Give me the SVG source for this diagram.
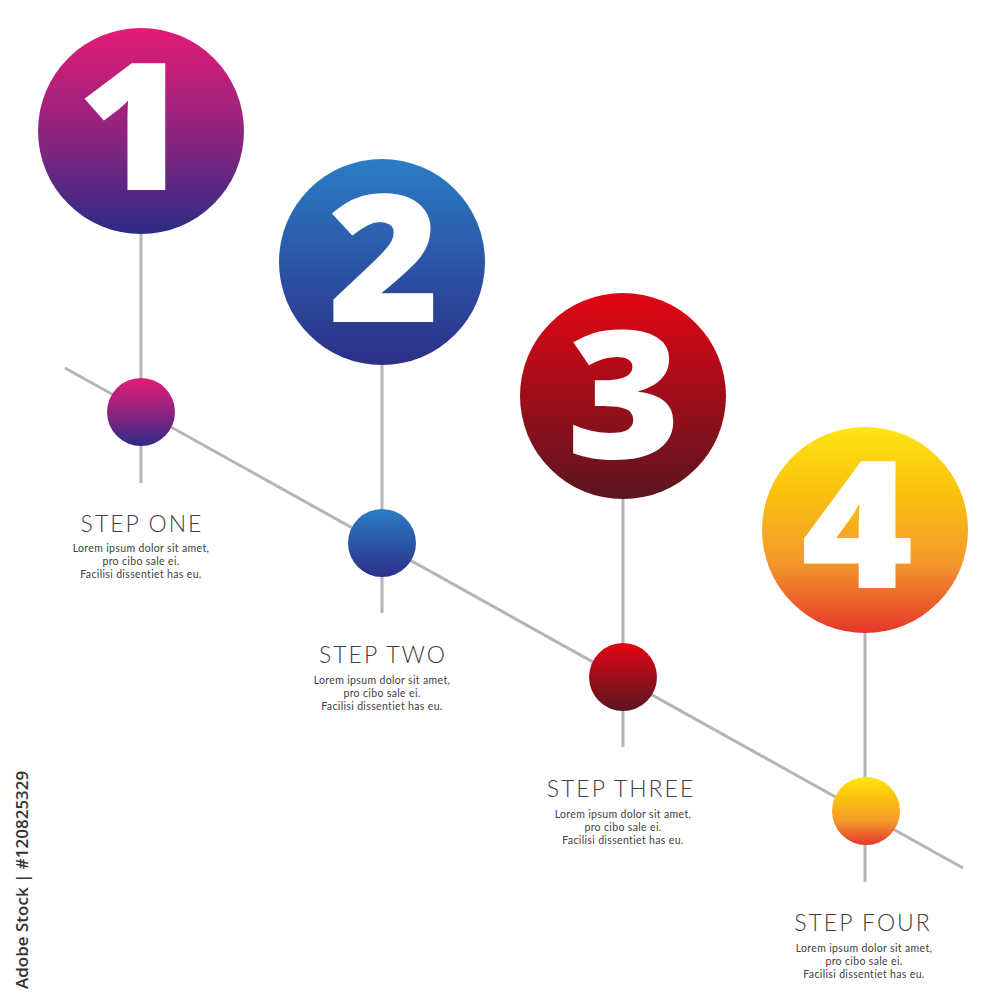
<svg xmlns="http://www.w3.org/2000/svg" width="1000" height="1000" viewBox="0 0 1000 1000">
<style>
.ln{stroke:#b5b5b5;stroke-width:3;fill:none;stroke-linecap:butt}
.num{font-family:"Open Sans","DejaVu Sans",sans-serif;font-weight:800;fill:#fff;text-anchor:middle}
.ttl{font-family:"Lato","Open Sans",sans-serif;font-weight:300;font-size:23px;fill:#404040;text-anchor:middle;letter-spacing:2px}
.dsc{font-family:"Lato","Open Sans",sans-serif;font-weight:400;font-size:10.5px;fill:#404040;text-anchor:middle;letter-spacing:0.35px}
.wm{font-family:"Open Sans","DejaVu Sans",sans-serif;font-weight:600;font-size:17px;fill:#333}
</style>
<defs>
<linearGradient id="g1" x1="0" y1="0" x2="0" y2="1"><stop offset="0" stop-color="#e41b76"/><stop offset="0.5" stop-color="#90247f"/><stop offset="1" stop-color="#2c2b86"/></linearGradient>
<linearGradient id="g2" x1="0" y1="0" x2="0" y2="1"><stop offset="0" stop-color="#2a7dc5"/><stop offset="1" stop-color="#2c2f88"/></linearGradient>
<linearGradient id="g3" x1="0" y1="0" x2="0" y2="1"><stop offset="0" stop-color="#e30613"/><stop offset="1" stop-color="#5a1520"/></linearGradient>
<linearGradient id="g4" x1="0" y1="0" x2="0" y2="1"><stop offset="0" stop-color="#fde514"/><stop offset="0.3" stop-color="#fbc30c"/><stop offset="0.65" stop-color="#f39a2c"/><stop offset="1" stop-color="#e5362b"/></linearGradient>
</defs>
<rect width="1000" height="1000" fill="#fff"/>
<g id="connectors">
<line class="ln" x1="65" y1="368" x2="963" y2="868"/>
<line class="ln" x1="141" y1="230" x2="141" y2="483"/>
<line class="ln" x1="382" y1="360" x2="382" y2="613"/>
<line class="ln" x1="623" y1="494" x2="623" y2="747"/>
<line class="ln" x1="865" y1="628" x2="865" y2="882"/>
</g>
<g id="step1">
<circle cx="141" cy="131" r="103" fill="url(#g1)"/>
<text class="num" x="133" y="190" font-size="178" transform="translate(133 0) scale(1.08 1) translate(-133 0)">1</text>
<circle cx="141" cy="412" r="34" fill="url(#g1)"/>
<text class="ttl" x="142" y="532">STEP ONE</text>
<text class="dsc" x="141" y="552">Lorem ipsum dolor sit amet,</text>
<text class="dsc" x="141" y="565">pro cibo sale ei.</text>
<text class="dsc" x="141" y="578">Facilisi dissentiet has eu.</text>
</g>
<g id="step2">
<circle cx="382" cy="262" r="103" fill="url(#g2)"/>
<text class="num" x="384" y="322" font-size="178" transform="translate(384 0) scale(1.08 1) translate(-384 0)">2</text>
<circle cx="382" cy="543" r="34" fill="url(#g2)"/>
<text class="ttl" x="383" y="663">STEP TWO</text>
<text class="dsc" x="382" y="684">Lorem ipsum dolor sit amet,</text>
<text class="dsc" x="382" y="697">pro cibo sale ei.</text>
<text class="dsc" x="382" y="710">Facilisi dissentiet has eu.</text>
</g>
<g id="step3">
<circle cx="623" cy="396" r="103" fill="url(#g3)"/>
<text class="num" x="624" y="458" font-size="178" transform="translate(624 0) scale(1.1 1) translate(-624 0)">3</text>
<circle cx="623" cy="677" r="34" fill="url(#g3)"/>
<text class="ttl" x="621" y="797">STEP THREE</text>
<text class="dsc" x="623" y="818">Lorem ipsum dolor sit amet,</text>
<text class="dsc" x="623" y="831">pro cibo sale ei.</text>
<text class="dsc" x="623" y="844">Facilisi dissentiet has eu.</text>
</g>
<g id="step4">
<circle cx="865" cy="530" r="103" fill="url(#g4)"/>
<text class="num" x="857" y="588" font-size="178" transform="translate(857 0) scale(1.08 1) translate(-857 0)">4</text>
<circle cx="866" cy="811" r="34" fill="url(#g4)"/>
<text class="ttl" x="863" y="931">STEP FOUR</text>
<text class="dsc" x="864" y="952">Lorem ipsum dolor sit amet,</text>
<text class="dsc" x="864" y="965">pro cibo sale ei.</text>
<text class="dsc" x="864" y="978">Facilisi dissentiet has eu.</text>
</g>
<text class="wm" transform="translate(28 989) rotate(-90)">Adobe Stock | #120825329</text>
</svg>
